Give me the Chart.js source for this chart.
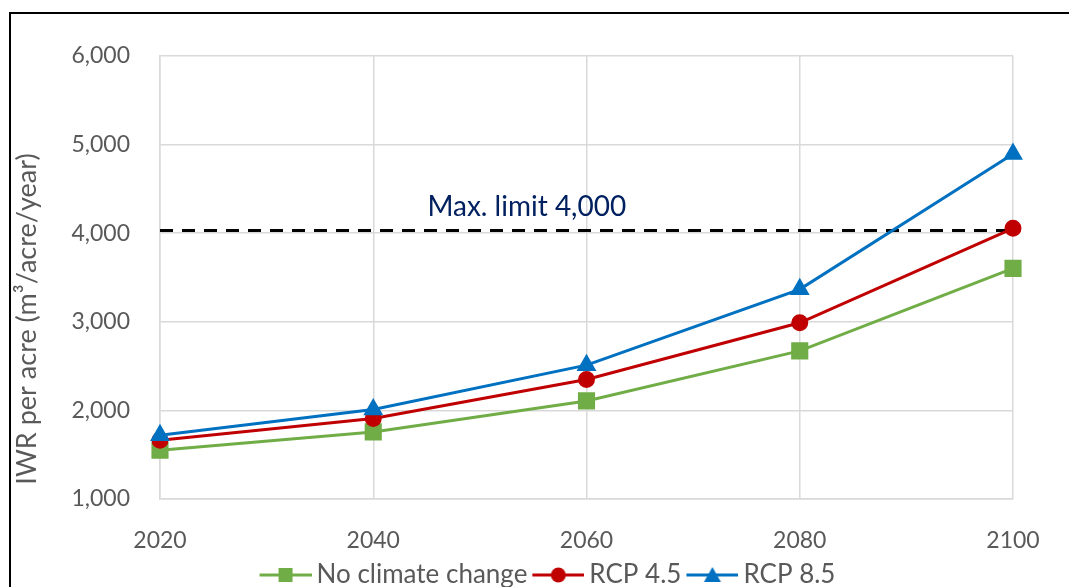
<!DOCTYPE html>
<html>
<head>
<meta charset="utf-8">
<script src="https://cdn.jsdelivr.net/npm/chart.js@4.4.1/dist/chart.umd.min.js"></script>
<style>
    html, body { margin: 0; padding: 0; background: #fff; overflow: hidden; }
    #wrap { position: relative; width: 1069px; height: 587px; }
    #frame { position: absolute; left: 9px; top: 12px; width: 1200px; height: 700px; border-left: 2px solid #000; border-top: 2px solid #000; }
    canvas { position: absolute; left: 0; top: 0; }
</style>
</head>
<body>
<div id="wrap">
    <div id="frame"></div>
    <canvas id="iwrChart" width="1069" height="587"></canvas>
</div>
<script>
const years = ['2020', '2040', '2060', '2080', '2100'];
const noClimateChange = [1550, 1757, 2107, 2672, 3603];
const rcp45 = [1663, 1908, 2349, 2989, 4055];
const rcp85 = [1720, 2010, 2511, 3366, 4895];
const maxLimit = [4030, 4030, 4030, 4030, 4030];
const yTicks = [1000, 2000, 3000, 4000, 5000, 6000];

const FONT = 'Lato, "Open Sans", sans-serif';
const TEXT = '#595959';
const GREEN = '#70AD47';
const RED = '#C00000';
const BLUE = '#0070C0';

// legend icon: line with the marker in the middle, sitting on the right half of the canvas
function legendIcon(color, shape) {
    const c = document.createElement('canvas');
    c.width = 58; c.height = 20;
    const g = c.getContext('2d');
    g.strokeStyle = color;
    g.fillStyle = color;
    g.lineWidth = 3;
    g.beginPath(); g.moveTo(6, 10); g.lineTo(58, 10); g.stroke();
    g.beginPath();
    if (shape === 'rect') {
        g.rect(25, 3, 14, 14);
    } else if (shape === 'circle') {
        g.arc(32, 10, 7.5, 0, Math.PI * 2);
    } else {
        g.moveTo(32, 2); g.lineTo(40.5, 17); g.lineTo(23.5, 17); g.closePath();
    }
    g.fill();
    return c;
}
const icons = [legendIcon(GREEN, 'rect'), legendIcon(RED, 'circle'), legendIcon(BLUE, 'triangle')];

const extrasPlugin = {
    id: 'extras',
    afterLayout(chart) {
        chart.legend.left += 38;
        chart.legend.right += 38;
    },
    afterDraw(chart) {
        const ctx = chart.ctx;
        const xs = chart.scales.x;
        const ys = chart.scales.y;
        ctx.save();
        // max limit label
        ctx.font = '28px ' + FONT;
        ctx.fillStyle = '#002060';
        ctx.textAlign = 'center';
        ctx.textBaseline = 'middle';
        ctx.fillText('Max. limit 4,000', xs.getPixelForValue(1.72), ys.getPixelForValue(4300));
        // y axis title
        ctx.fillStyle = TEXT;
        ctx.translate(27, 319);
        ctx.rotate(-Math.PI / 2);
        ctx.font = '27px ' + FONT;
        ctx.fillText('IWR per acre (m³/acre/year)', 0, 0);
        ctx.restore();
    }
};

new Chart(document.getElementById('iwrChart'), {
    type: 'line',
    data: {
        labels: years,
        datasets: [
            {
                label: 'No climate change', data: noClimateChange, order: 3,
                borderColor: GREEN, backgroundColor: GREEN, borderWidth: 3,
                pointStyle: 'rect', pointRadius: 10, pointHoverRadius: 10
            },
            {
                label: 'RCP 4.5', data: rcp45, order: 2,
                borderColor: RED, backgroundColor: RED, borderWidth: 3,
                pointStyle: 'circle', pointRadius: 7, pointHoverRadius: 7
            },
            {
                label: 'RCP 8.5', data: rcp85, order: 1,
                borderColor: BLUE, backgroundColor: BLUE, borderWidth: 3,
                pointStyle: 'triangle', pointRadius: 8.5, pointHoverRadius: 8.5
            },
            {
                label: 'Max limit', data: maxLimit, order: 4,
                borderColor: '#000', borderWidth: 3, borderDash: [13, 9],
                pointRadius: 0
            }
        ]
    },
    options: {
        responsive: false,
        animation: false,
        layout: { padding: { left: 8, right: 56, top: 56, bottom: -11 } },
        plugins: {
            tooltip: { enabled: false },
            legend: {
                position: 'bottom',
                labels: {
                    usePointStyle: true,
                    pointStyleWidth: 42,
                    padding: 7,
                    color: TEXT,
                    font: { family: FONT, size: 26 },
                    filter: item => item.datasetIndex < 3,
                    sort: (a, b) => a.datasetIndex - b.datasetIndex,
                    generateLabels(chart) {
                        const items = Chart.defaults.plugins.legend.labels.generateLabels(chart);
                        items.forEach(it => { if (it.datasetIndex < 3) it.pointStyle = icons[it.datasetIndex]; });
                        return items;
                    }
                }
            }
        },
        scales: {
            x: {
                offset: false,
                grid: { color: '#d9d9d9', lineWidth: 1.5, drawTicks: false },
                border: { color: '#d9d9d9', width: 1.5 },
                ticks: { color: TEXT, font: { family: FONT, size: 23 }, padding: 28, maxRotation: 0 },
                afterFit(scale) { scale.height = 56; }
            },
            y: {
                min: 1000, max: 6000,
                afterBuildTicks(axis) { axis.ticks = yTicks.map(v => ({ value: v })); },
                afterFit(scale) { scale.width = 152; },
                grid: { color: '#d9d9d9', lineWidth: 1.5, drawTicks: false },
                border: { color: '#d9d9d9', width: 1.5 },
                ticks: {
                    color: TEXT, font: { family: FONT, size: 23 }, padding: 30,
                    callback: v => v.toLocaleString('en-US')
                }
            }
        }
    },
    plugins: [extrasPlugin]
});
</script>
</body>
</html>
